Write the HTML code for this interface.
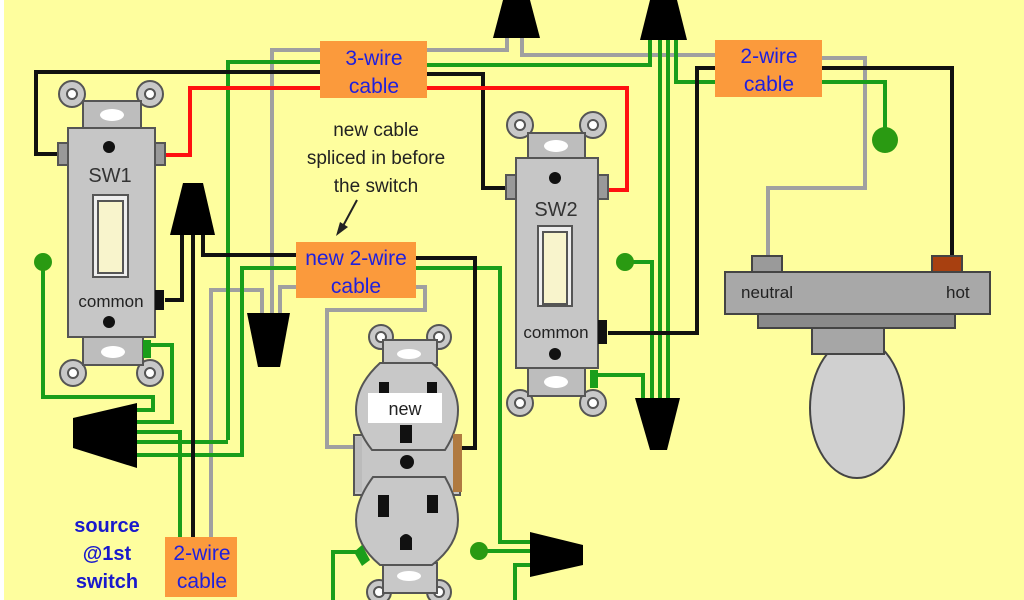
<!DOCTYPE html>
<html><head><meta charset="utf-8"><style>
html,body{margin:0;padding:0;background:#fff}
svg{display:block}
text{font-family:"Liberation Sans",sans-serif}
</style></head><body>
<svg width="1024" height="600" viewBox="0 0 1024 600" xmlns="http://www.w3.org/2000/svg">
<rect x="0" y="0" width="1024" height="600" fill="#fefe9e"/>
<rect x="0" y="0" width="4" height="600" fill="#ffffff"/>
<g fill="none" stroke-linejoin="miter" stroke-width="4">
<!-- gray wires -->
<g stroke="#a0a0a0">
<polyline points="272,313 272,50 320,50"/>
<polyline points="427,50 507,50 507,38"/>
<polyline points="522,38 522,55 715,55"/>
<polyline points="822,58 865,58 865,188 768,188 768,256"/>
<polyline points="262,313 262,290 211,290 211,537"/>
<polyline points="280,313 280,287 296,287"/>
<polyline points="416,287 425,287 425,310 327,310 327,447 357,447"/>
</g>
<!-- green wires -->
<g stroke="#1a9e1a">
<polyline points="228,440 228,62 320,62"/>
<polyline points="427,65 650,65 650,40"/>
<polyline points="660,40 660,398"/>
<polyline points="668,40 668,398"/>
<polyline points="676,40 676,82 715,82"/>
<polyline points="822,82 885,82 885,135"/>
<polyline points="43,262 43,397 153,397 153,410 137,410"/>
<polyline points="148,345 172,345 172,422 137,422"/>
<polyline points="137,432 180,432 180,537"/>
<polyline points="137,442 228,442"/>
<polyline points="137,455 242,455 242,268 296,268"/>
<polyline points="416,268 500,268 500,542 530,542"/>
<polyline points="479,551 530,551"/>
<polyline points="625,262 652,262 652,398"/>
<polyline points="595,375 643,375 643,398"/>
<polyline points="360,552 333,552 333,600"/>
<polyline points="530,565 515,565 515,600"/>
</g>
<!-- black wires -->
<g stroke="#111">
<polyline points="58,154 36,154 36,72 320,72"/>
<polyline points="427,74 483,74 483,188 505,188"/>
<polyline points="165,300 182,300 182,235"/>
<polyline points="193,235 193,537"/>
<polyline points="203,235 203,255 296,255"/>
<polyline points="416,258 475,258 475,448 458,448"/>
<polyline points="608,333 697,333 697,68 715,68"/>
<polyline points="822,68 952,68 952,258"/>
</g>
<!-- red -->
<g stroke="#ff1010">
<polyline points="165,155 190,155 190,88 320,88"/>
<polyline points="427,88 627,88 627,190 608,190"/>
</g>
</g>
<!-- green dots -->
<g fill="#2a9a12">
<circle cx="43" cy="262" r="9"/>
<circle cx="885" cy="140" r="13"/>
<circle cx="625" cy="262" r="9"/>
<circle cx="479" cy="551" r="9"/>
</g>
<!-- wire nuts -->
<g fill="#000">
<polygon points="503,0 530,0 540,38 493,38"/>
<polygon points="650,0 677,0 687,40 640,40"/>
<polygon points="183,183 203,183 215,235 170,235"/>
<polygon points="247,313 290,313 280,367 258,367"/>
<polygon points="73,418 137,403 137,468 73,448"/>
<polygon points="635,398 680,398 667,450 650,450"/>
<polygon points="530,532 583,545 583,565 530,577"/>
</g>
<!-- cable labels -->
<g fill="#fb9a3c">
<rect x="320" y="41" width="107" height="57"/>
<rect x="715" y="40" width="107" height="57"/>
<rect x="296" y="242" width="120" height="56"/>
<rect x="165" y="537" width="72" height="60"/>
</g>
<g fill="#2020dd" font-size="21" text-anchor="middle">
<text x="374" y="65">3-wire</text><text x="374" y="93">cable</text>
<text x="769" y="63">2-wire</text><text x="769" y="91">cable</text>
<text x="356" y="265">new 2-wire</text><text x="356" y="293">cable</text>
<text x="202" y="560">2-wire</text><text x="202" y="588">cable</text>
</g>
<g fill="#1a1acc" font-size="20" font-weight="bold" text-anchor="middle">
<text x="107" y="532">source</text><text x="107" y="560">@1st</text><text x="107" y="588">switch</text>
</g>
<g fill="#222" font-size="19" text-anchor="middle">
<text x="376" y="136">new cable</text>
<text x="376" y="164">spliced in before</text>
<text x="376" y="192">the switch</text>
</g>
<line x1="357" y1="200" x2="343" y2="226" stroke="#222" stroke-width="2"/>
<polygon points="336,236 340,222 348,227" fill="#222"/>

<!-- SW1 -->
<g stroke="#555" stroke-width="2">
<circle cx="72" cy="94" r="13" fill="#c8c8c8"/><circle cx="72" cy="94" r="5" fill="#fff"/>
<circle cx="150" cy="94" r="13" fill="#c8c8c8"/><circle cx="150" cy="94" r="5" fill="#fff"/>
<circle cx="73" cy="373" r="13" fill="#c8c8c8"/><circle cx="73" cy="373" r="5" fill="#fff"/>
<circle cx="150" cy="373" r="13" fill="#c8c8c8"/><circle cx="150" cy="373" r="5" fill="#fff"/>
<rect x="83" y="101" width="58" height="28" fill="#bdbdbd"/>
<rect x="83" y="337" width="60" height="28" fill="#bdbdbd"/>
<rect x="58" y="143" width="10" height="22" fill="#999"/>
<rect x="155" y="143" width="10" height="22" fill="#999"/>
<rect x="68" y="128" width="87" height="209" fill="#c6c6c6"/>
<rect x="93" y="195" width="35" height="82" fill="#eeeeee"/>
<rect x="98" y="201" width="25" height="72" fill="#f8f4cc"/>
</g>
<rect x="155" y="290" width="9" height="20" fill="#111"/>
<rect x="143" y="340" width="8" height="18" fill="#1a9e1a"/>
<ellipse cx="112" cy="115" rx="12" ry="6" fill="#fff"/>
<ellipse cx="113" cy="352" rx="12" ry="6" fill="#fff"/>
<circle cx="109" cy="147" r="6" fill="#111"/><circle cx="109" cy="322" r="6" fill="#111"/>
<text x="110" y="182" font-size="20" fill="#333" text-anchor="middle">SW1</text>
<text x="111" y="307" font-size="17" fill="#222" text-anchor="middle">common</text>

<!-- SW2 -->
<g stroke="#555" stroke-width="2">
<circle cx="520" cy="125" r="13" fill="#c8c8c8"/><circle cx="520" cy="125" r="5" fill="#fff"/>
<circle cx="593" cy="125" r="13" fill="#c8c8c8"/><circle cx="593" cy="125" r="5" fill="#fff"/>
<circle cx="520" cy="403" r="13" fill="#c8c8c8"/><circle cx="520" cy="403" r="5" fill="#fff"/>
<circle cx="593" cy="403" r="13" fill="#c8c8c8"/><circle cx="593" cy="403" r="5" fill="#fff"/>
<rect x="528" y="133" width="57" height="26" fill="#bdbdbd"/>
<rect x="528" y="368" width="57" height="28" fill="#bdbdbd"/>
<rect x="506" y="175" width="10" height="24" fill="#999"/>
<rect x="598" y="175" width="10" height="24" fill="#999"/>
<rect x="516" y="158" width="82" height="210" fill="#c6c6c6"/>
<rect x="538" y="226" width="34" height="80" fill="#eeeeee"/>
<rect x="543" y="232" width="24" height="72" fill="#f8f4cc"/>
</g>
<rect x="598" y="320" width="9" height="24" fill="#111"/>
<rect x="590" y="370" width="8" height="18" fill="#1a9e1a"/>
<ellipse cx="556" cy="146" rx="12" ry="6" fill="#fff"/>
<ellipse cx="556" cy="382" rx="12" ry="6" fill="#fff"/>
<circle cx="555" cy="178" r="6" fill="#111"/><circle cx="555" cy="354" r="6" fill="#111"/>
<text x="556" y="216" font-size="20" fill="#333" text-anchor="middle">SW2</text>
<text x="556" y="338" font-size="17" fill="#222" text-anchor="middle">common</text>

<!-- light fixture -->
<g stroke="#444" stroke-width="2">
<ellipse cx="857" cy="408" rx="47" ry="70" fill="#d0d0d0"/>
<rect x="812" y="327" width="72" height="27" fill="#a6a6a6"/>
<rect x="758" y="312" width="197" height="16" fill="#8a8a8a"/>
<rect x="752" y="256" width="30" height="17" fill="#9a9a9a"/>
<rect x="932" y="256" width="30" height="17" fill="#a84010"/>
<rect x="725" y="272" width="265" height="42" fill="#a8a8a8"/>
</g>
<text x="741" y="298" font-size="17" fill="#222">neutral</text>
<text x="946" y="298" font-size="17" fill="#222">hot</text>

<!-- receptacle -->
<g stroke="#555" stroke-width="2">
<circle cx="381" cy="337" r="12" fill="#c8c8c8"/><circle cx="381" cy="337" r="5" fill="#fff"/>
<circle cx="439" cy="337" r="12" fill="#c8c8c8"/><circle cx="439" cy="337" r="5" fill="#fff"/>
<circle cx="379" cy="592" r="12" fill="#c8c8c8"/><circle cx="379" cy="592" r="5" fill="#fff"/>
<circle cx="439" cy="592" r="12" fill="#c8c8c8"/><circle cx="439" cy="592" r="5" fill="#fff"/>
<rect x="383" y="340" width="54" height="25" fill="#c8c8c8"/>
<rect x="383" y="563" width="54" height="30" fill="#c8c8c8"/>
<rect x="354" y="435" width="106" height="60" fill="#c6c6c6"/>
<path d="M380,363 H432 Q458,385 458,410 Q458,430 445,450 H372 Q356,430 356,410 Q356,385 380,363 Z" fill="#c8c8c8"/>
<path d="M373,477 H445 Q458,500 458,520 Q458,545 432,565 H380 Q356,545 356,520 Q356,500 373,477 Z" fill="#c8c8c8"/>
</g>
<rect x="355" y="437" width="7" height="55" fill="#bbb"/>
<rect x="453" y="434" width="9" height="58" fill="#b07a40"/>
<polygon points="354,552 362,545 370,560 362,566" fill="#1a9e1a"/>
<ellipse cx="409" cy="354" rx="12" ry="5" fill="#fff"/>
<ellipse cx="409" cy="576" rx="12" ry="5" fill="#fff"/>
<rect x="379" y="382" width="10" height="12" fill="#111"/><rect x="427" y="382" width="10" height="12" fill="#111"/>
<rect x="368" y="393" width="74" height="30" fill="#fff"/>
<text x="405" y="415" font-size="18" fill="#222" text-anchor="middle">new</text>
<rect x="400" y="425" width="12" height="18" fill="#111"/>
<circle cx="407" cy="462" r="7" fill="#111"/>
<rect x="378" y="495" width="11" height="22" fill="#111"/><rect x="427" y="495" width="11" height="18" fill="#111"/>
<path d="M400,550 V538 Q406,530 412,538 V550 Z" fill="#111"/>
</svg>
</body></html>
